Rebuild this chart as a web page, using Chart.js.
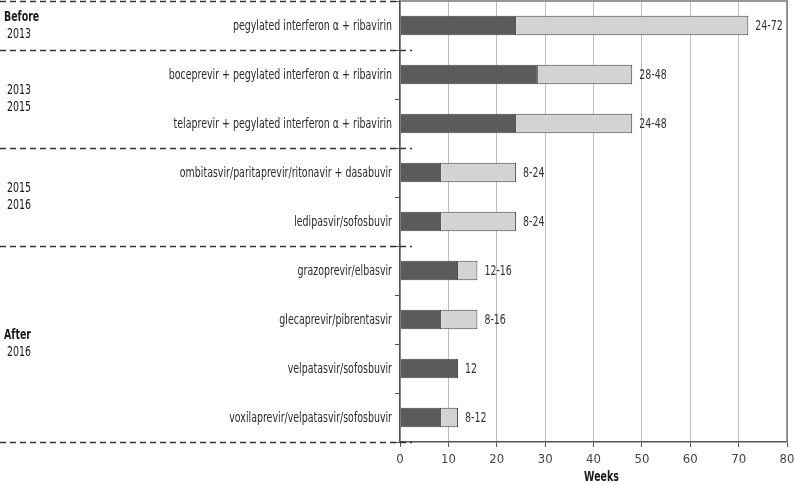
<!DOCTYPE html>
<html>
<head>
<meta charset="utf-8">
<script src="https://cdn.jsdelivr.net/npm/chart.js@4/dist/chart.umd.min.js"></script>
<style>
  html, body { margin: 0; padding: 0; background: #fff; }
  #wrap { width: 794px; height: 485px; }
</style>
</head>
<body>
<div id="wrap"><canvas id="chart"></canvas></div>
<script>
const treatments = [
  'pegylated interferon \u03b1 + ribavirin',
  'boceprevir + pegylated interferon \u03b1 + ribavirin',
  'telaprevir + pegylated interferon \u03b1 + ribavirin',
  'ombitasvir/paritaprevir/ritonavir + dasabuvir',
  'ledipasvir/sofosbuvir',
  'grazoprevir/elbasvir',
  'glecaprevir/pibrentasvir',
  'velpatasvir/sofosbuvir',
  'voxilaprevir/velpatasvir/sofosbuvir'
];
const shortestWeeks = [24, 28.5, 24, 8.5, 8.5, 12, 8.5, 12, 8.5];
const extraWeeks = [48, 19.5, 24, 15.5, 15.5, 4, 7.5, 0, 3.5];
const rangeLabels = ['24-72', '28-48', '24-48', '8-24', '8-24', '12-16', '8-16', '12', '8-12'];
const periodNames = [['Before', '2013'], ['2013', '2015'], ['2015', '2016'], ['After', '2016']];
const periodFirstRow = [0, 1, 3, 5];
const periodLastRow = [0, 2, 4, 8];
const weekTicks = [0, 10, 20, 30, 40, 50, 60, 70, 80];

const FONT = '"DejaVu Sans Condensed", "DejaVu Sans", sans-serif';
const SQUEEZE = 0.75; // the original uses a narrow typeface

function narrowText(ctx, text, x, y, align) {
  ctx.save();
  ctx.translate(x, y);
  ctx.scale(SQUEEZE, 1);
  ctx.textAlign = align;
  ctx.fillText(text, 0, 0);
  ctx.restore();
}

// treatment names, group labels and dashed separators on the left
const periodPlugin = {
  id: 'periods',
  afterDraw(chart) {
    const ctx = chart.ctx;
    const y = chart.scales.y;
    const area = chart.chartArea;
    const half = (y.getPixelForValue(1) - y.getPixelForValue(0)) / 2;
    ctx.save();
    ctx.textBaseline = 'middle';
    ctx.fillStyle = '#2b2b2b';
    ctx.font = '14px ' + FONT;
    treatments.forEach((t, i) => narrowText(ctx, t, area.left - 8, y.getPixelForValue(i) + 1, 'right'));

    ctx.strokeStyle = '#333';
    ctx.lineWidth = 1.5;
    ctx.setLineDash([6, 4]);
    const lines = [area.top];
    periodLastRow.forEach(r => lines.push(y.getPixelForValue(r) + half));
    lines.forEach((py, i) => {
      ctx.beginPath();
      ctx.moveTo(0, Math.round(py) + 0.5);
      ctx.lineTo(i === 0 ? area.left : area.left + 12, Math.round(py) + 0.5);
      ctx.stroke();
    });
    ctx.setLineDash([]);

    ctx.fillStyle = '#1a1a1a';
    periodNames.forEach((pair, i) => {
      const top = y.getPixelForValue(periodFirstRow[i]) - half;
      const bot = y.getPixelForValue(periodLastRow[i]) + half;
      const mid = (top + bot) / 2;
      pair.forEach((t, j) => {
        const bold = isNaN(Number(t));
        ctx.font = (bold ? 'bold ' : '') + '14px ' + FONT;
        narrowText(ctx, t, bold ? 4 : 7, mid + (j - 0.5) * 17, 'left');
      });
    });
    ctx.restore();
  }
};

// range labels at the end of each bar
const rangePlugin = {
  id: 'ranges',
  afterDatasetsDraw(chart) {
    const ctx = chart.ctx;
    const x = chart.scales.x;
    const y = chart.scales.y;
    ctx.save();
    ctx.font = '14px ' + FONT;
    ctx.fillStyle = '#333';
    ctx.textBaseline = 'middle';
    rangeLabels.forEach((t, i) => {
      const end = x.getPixelForValue(shortestWeeks[i] + extraWeeks[i]);
      narrowText(ctx, t, end + 7, y.getPixelForValue(i) + 1, 'left');
    });
    ctx.restore();
  }
};

const framePlugin = {
  id: 'frame',
  afterDraw(chart) {
    const a = chart.chartArea;
    const ctx = chart.ctx;
    ctx.save();
    ctx.strokeStyle = '#777';
    ctx.lineWidth = 1.5;
    ctx.beginPath();
    ctx.moveTo(a.left, a.top);
    ctx.lineTo(a.right, a.top);
    ctx.lineTo(a.right, a.bottom);
    ctx.stroke();
    // axis title
    ctx.fillStyle = '#1a1a1a';
    ctx.font = 'bold 14px ' + FONT;
    ctx.textBaseline = 'middle';
    narrowText(ctx, 'Weeks', (a.left + a.right) / 2 + 8, 477, 'center');
    ctx.restore();
  }
};

new Chart(document.getElementById('chart'), {
  type: 'bar',
  data: {
    labels: treatments,
    datasets: [
      {
        data: shortestWeeks,
        backgroundColor: '#5b5b5b',
        borderColor: '#444',
        borderWidth: 1,
        barPercentage: 0.4,
        categoryPercentage: 1
      },
      {
        data: extraWeeks,
        backgroundColor: '#d3d3d3',
        borderColor: '#444',
        borderWidth: 1,
        barPercentage: 0.4,
        categoryPercentage: 1
      }
    ]
  },
  options: {
    indexAxis: 'y',
    responsive: true,
    maintainAspectRatio: false,
    animation: false,
    layout: { padding: { top: 1, right: 7, left: 0, bottom: 0 } },
    plugins: {
      legend: { display: false },
      tooltip: { enabled: false }
    },
    scales: {
      x: {
        stacked: true,
        min: 0,
        max: 80,
        afterBuildTicks: s => { s.ticks = weekTicks.map(v => ({ value: v })); },
        afterFit: s => { s.height = 43; s.paddingLeft = 0; s.paddingRight = 0; },
        grid: { color: '#bdbdbd', lineWidth: 1, drawTicks: true, tickLength: 5, tickColor: '#555' },
        border: { color: '#555', width: 1.5 },
        ticks: { color: '#444', font: { family: FONT, size: 13 }, padding: 5, maxRotation: 0 }
      },
      y: {
        stacked: true,
        afterFit: s => { s.width = 400; s.paddingTop = 0; s.paddingBottom = 0; },
        grid: { offset: true, drawOnChartArea: false, tickLength: 5, tickColor: '#555' },
        border: { color: '#555', width: 1.5 },
        ticks: { display: false }
      }
    }
  },
  plugins: [periodPlugin, rangePlugin, framePlugin]
});
</script>
</body>
</html>
